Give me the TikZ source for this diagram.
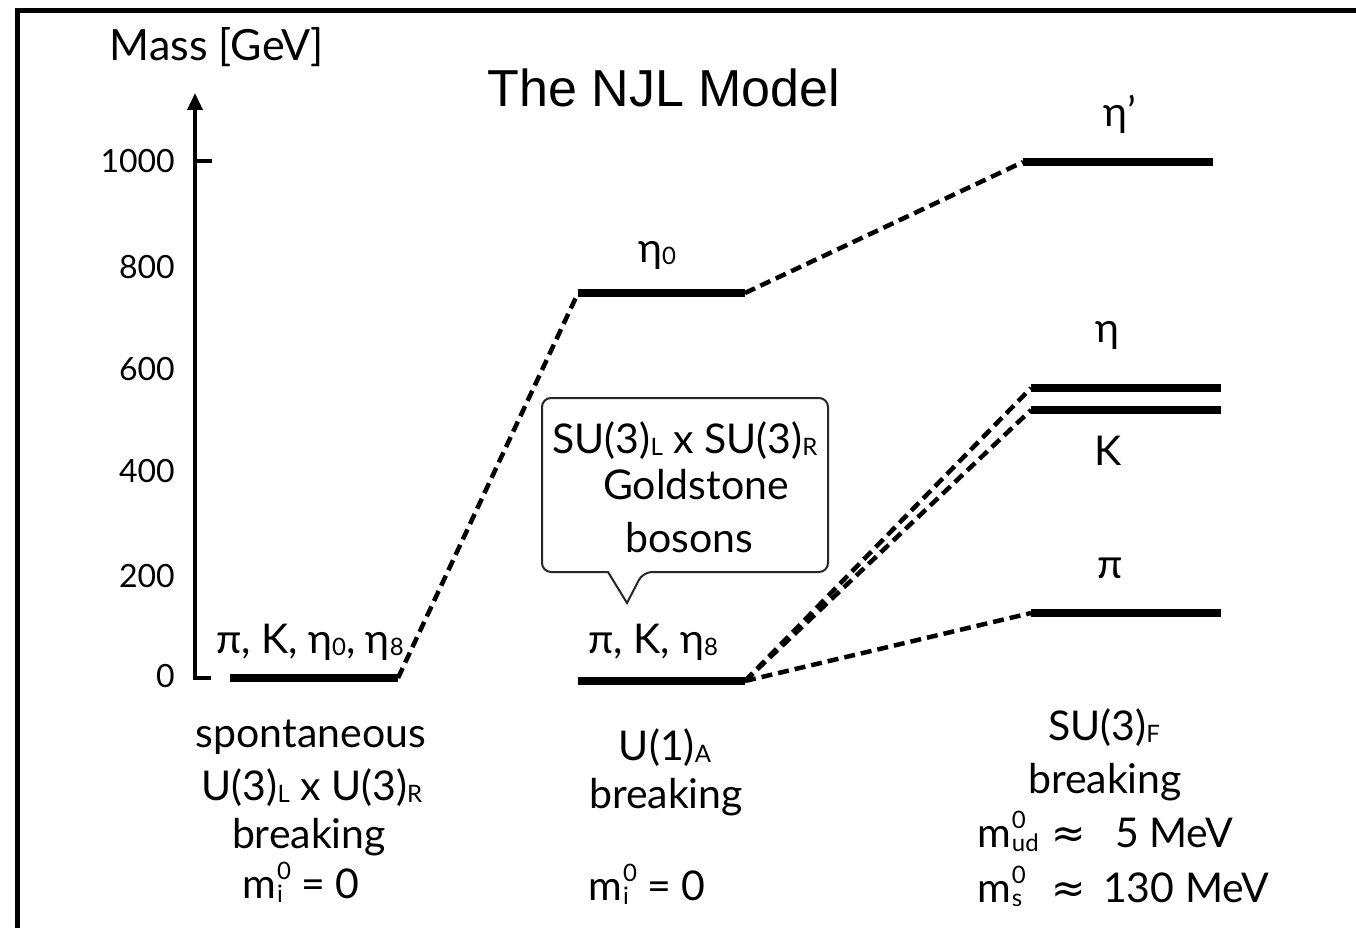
\documentclass[tikz,border=0pt]{standalone}
\usepackage{fontspec}
\setmainfont{Lato}
\newfontfamily\titlefont{Liberation Sans}
\newfontfamily\symfont{DejaVu Sans}
\usetikzlibrary{arrows.meta}
\newcommand\lsub[1]{\raisebox{-0.07em}{\fontsize{24}{24}\selectfont #1}}
\newsavebox\mysupbox
\newsavebox\mysubbox
\newlength\myscriptwd
\newcommand\mq[1]{m\kern1pt\sbox\mysupbox{\fontsize{24}{24}\selectfont 0}\sbox\mysubbox{\fontsize{24}{24}\selectfont #1}%
  \ifdim\wd\mysupbox>\wd\mysubbox\setlength\myscriptwd{\wd\mysupbox}\else\setlength\myscriptwd{\wd\mysubbox}\fi
  \rlap{\raisebox{19pt}{\usebox\mysupbox}}\rlap{\raisebox{-4pt}{\usebox\mysubbox}}\hspace{\myscriptwd}}
\newcommand\apx{{\symfont ≈}}
\begin{document}
\begin{tikzpicture}[x=1pt,y=-1pt,
  lbl/.style={font=\fontsize{41}{41}\selectfont, inner sep=0pt, anchor=base},
  ticklbl/.style={font=\fontsize{32}{32}\selectfont, inner sep=0pt, anchor=east},
  bar/.style={line width=8pt},
  conn/.style={line width=4.5pt, dash pattern=on 11pt off 6pt},
  axis/.style={line width=3.5pt, line join=miter},
  frame/.style={line width=5pt},
  callout/.style={line width=2pt, draw=black!85, fill=white}]
\useasboundingbox (0,0) rectangle (1356,928);
% frame
\draw[frame] (17.5,940) -- (17.5,10.5) -- (1370,10.5);
% title
\node[font=\titlefont\fontsize{52}{52}\selectfont, inner sep=0pt, anchor=base] (title) at (664,107) {The NJL Model};
% axis
\coordinate (axbot) at (195,678);
\coordinate (axtop) at (195,93);
\coordinate (tick0) at (211,678);
\draw[axis, -{Triangle[width=15pt,length=17pt]}] (tick0) -- (axbot) -- (axtop);
\coordinate (t1000a) at (195,161);
\coordinate (t1000b) at (212,161);
\draw[axis] (t1000a) -- (t1000b);
\node[lbl, font=\fontsize{43}{43}\selectfont] (ylab) at (217,61) {Mass [GeV]};
\node[ticklbl] (l1000) at (175,161) {1000};
\node[ticklbl] (l800) at (175,267) {800};
\node[ticklbl] (l600) at (175,369) {600};
\node[ticklbl] (l400) at (175,471) {400};
\node[ticklbl] (l200) at (175,576) {200};
\node[ticklbl] (l0) at (175,676) {0};
% levels
\coordinate (c1a) at (230,678); \coordinate (c1b) at (398,678);
\coordinate (e0a) at (578,293); \coordinate (e0b) at (745,293);
\coordinate (c2a) at (578,681); \coordinate (c2b) at (745,681);
\coordinate (epa) at (1023,162); \coordinate (epb) at (1213,162);
\coordinate (eta) at (1031,388); \coordinate (etb) at (1221,388);
\coordinate (ka) at (1031,410); \coordinate (kb) at (1221,410);
\coordinate (pa) at (1031,613); \coordinate (pb) at (1221,613);
\foreach \a/\b in {c1a/c1b,e0a/e0b,c2a/c2b,epa/epb,eta/etb,ka/kb,pa/pb}
  \draw[bar] (\a) -- (\b);
% connectors
\draw[conn] (c1b) -- (e0a);
\draw[conn] (e0b) -- (epa);
\draw[conn] (c2b) -- (eta);
\draw[conn] (c2b) -- (ka);
\draw[conn] (c2b) -- (pa);
% level labels
\node[lbl] (lc1) at (310,653) {π, K, η\lsub{0}, η\lsub{8}};
\node[lbl] (lc2) at (653,653) {π, K, η\lsub{8}};
\node[lbl] (le0) at (657,262) {η\lsub{0}};
\node[lbl] (lep) at (1120,127) {η’};
\node[lbl] (let) at (1107,342) {η};
\node[lbl] (lk) at (1108,465) {K};
\node[lbl] (lp) at (1110,578) {π};
% callout
\draw[callout, rounded corners=9pt] (608,572) -- (542,572) -- (542,398) -- (828,398) -- (828,572) -- (643,572) [sharp corners] -- (627,603) -- cycle;
\node[lbl] (cb1) at (685,453) {SU(3)\lsub{L} x SU(3)\lsub{R}};
\node[lbl] (cb2) at (696,499) {Goldstone};
\node[lbl] (cb3) at (689,552) {bosons};
% column 1 caption
\node[lbl] (a1) at (311,747) {spontaneous};
\node[lbl] (a2) at (312,800) {U(3)\lsub{L} x U(3)\lsub{R}};
\node[lbl] (a3) at (309,848) {breaking};
\node[lbl] (a4) at (301,898) {\mq{i} = 0};
% column 2 caption
\node[lbl] (b1) at (665,760) {U(1)\lsub{A}};
\node[lbl] (b2) at (666,808) {breaking};
\node[lbl] (b3) at (647,900) {\mq{i} = 0};
% column 3 caption
\node[lbl] (d1) at (1104,740) {SU(3)\lsub{F}};
\node[lbl] (d2) at (1105,793) {breaking};
\node[lbl, anchor=base west] (d3) at (977,847) {\makebox[80pt][l]{\mq{ud}}\makebox[23pt]{\apx}\hspace{35pt}5 MeV};
\node[lbl, anchor=base west] (d4) at (977,902) {\makebox[80pt][l]{\mq{s}}\makebox[23pt]{\apx}\hspace{23pt}130 MeV};
\end{tikzpicture}
\end{document}
